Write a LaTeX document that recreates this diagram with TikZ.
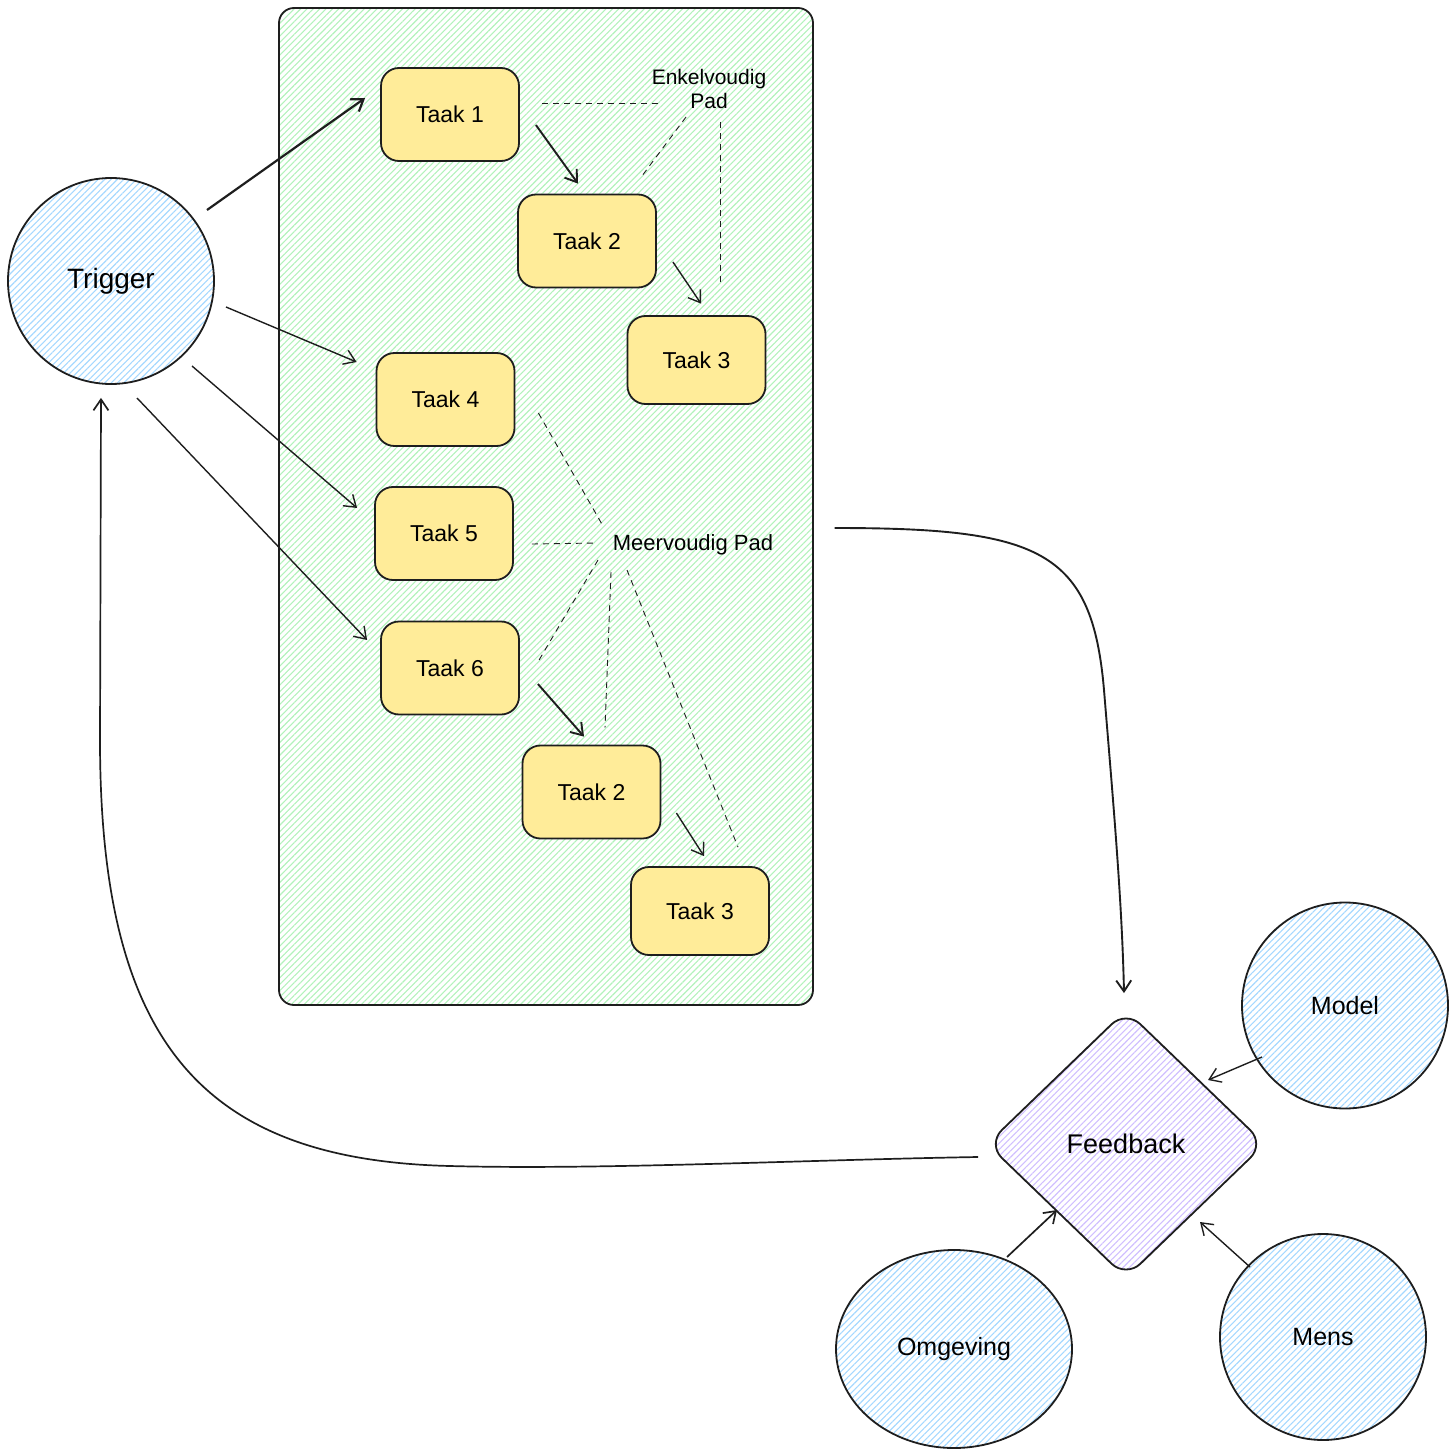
\documentclass[tikz,border=0pt]{standalone}
\usepackage{fontspec}
\setmainfont{Liberation Sans}
\usetikzlibrary{shapes.geometric,patterns.meta,arrows.meta,calc}
\definecolor{ink}{HTML}{1E1E1E}
\definecolor{taakyellow}{HTML}{FFEC99}
\definecolor{hatchgreen}{HTML}{B2F2BB}
\definecolor{hatchblue}{HTML}{A5D8FF}
\definecolor{hatchpurple}{HTML}{D0BFFF}
\begin{document}
\begin{tikzpicture}[x=1pt,y=-1pt,
  container/.style={draw=ink, line width=1.8pt, rounded corners=15pt,
    pattern={Lines[angle=45,distance=4.5pt,line width=1.1pt]}, pattern color=hatchgreen,
    minimum width=534pt, minimum height=997pt, inner sep=0pt},
  taak/.style={draw=ink, line width=1.8pt, rounded corners=18pt, fill=taakyellow,
    minimum width=138pt, minimum height=93pt, inner sep=0pt,
    font=\fontsize{23}{27}\selectfont},
  bluecirc/.style={draw=ink, line width=1.8pt, circle, minimum size=206pt, inner sep=0pt,
    pattern={Lines[angle=45,distance=4.5pt,line width=1.1pt]}, pattern color=hatchblue,
    font=\fontsize{25}{30}\selectfont},
  blueell/.style={draw=ink, line width=1.8pt, ellipse, minimum width=236pt, minimum height=198pt, inner sep=0pt,
    pattern={Lines[angle=45,distance=4.5pt,line width=1.1pt]}, pattern color=hatchblue,
    font=\fontsize{25}{30}\selectfont},
  fbshape/.style={draw=ink, line width=1.8pt, diamond, minimum width=278pt, minimum height=268pt,
    inner sep=0pt, rounded corners=20pt,
    pattern={Lines[angle=45,distance=4.5pt,line width=1.1pt]}, pattern color=hatchpurple,
    font=\fontsize{27}{32}\selectfont},
  lbl/.style={font=\fontsize{21}{24}\selectfont, align=center, inner sep=0pt},
  arr/.style={draw=ink, line width=1.4pt, -{Straight Barb[length=11pt,width=15pt]}},
  arrthick/.style={arr, line width=2.2pt},
  dsh/.style={draw=ink, line width=0.9pt, dash pattern=on 6pt off 5pt}
]
\useasboundingbox (0,0) rectangle (1456,1455);

% container
\node[container] (cont) at (546,506.5) {};

% task boxes
\node[taak] (t1)  at (450,114.5) {Taak 1};
\node[taak] (t2)  at (587,241)   {Taak 2};
\node[taak, minimum height=88pt] (t3)  at (696.5,360) {Taak 3};
\node[taak] (t4)  at (445.5,399.5) {Taak 4};
\node[taak] (t5)  at (444,533.5) {Taak 5};
\node[taak] (t6)  at (450,668)   {Taak 6};
\node[taak] (t2b) at (591.5,792) {Taak 2};
\node[taak, minimum height=88pt] (t3b) at (700,911) {Taak 3};

% labels
\node[lbl] (enk) at (709,89) {Enkelvoudig\\Pad};
\node[lbl, font=\fontsize{22}{26}\selectfont] (mee) at (693,545) {Meervoudig Pad};

% circles and diamond
\node[bluecirc, font=\fontsize{28}{32}\selectfont] (trig) at (111,281) {Trigger};
\node[bluecirc] (model) at (1345,1005.5) {Model};
\node[blueell] (omg) at (954,1349) {Omgeving};
\node[bluecirc] (mens) at (1323,1337) {Mens};
\node[fbshape] (fb) at (1126,1144) {Feedback};

% arrows from trigger
\draw[arrthick] ([shift={(96,-71)}]trig.center) -- ([shift={(-15,-16.5)}]t1.west);
\draw[arr] ([shift={(115,26)}]trig.center) -- ([shift={(-19,-37.5)}]t4.west);
\draw[arr] ([shift={(81,85)}]trig.center) -- ([shift={(-17,-25.5)}]t5.west);
\draw[arr] ([shift={(26,117)}]trig.center) -- ([shift={(-13,-28)}]t6.west);

% chains
\draw[arr, line width=1.9pt] ([shift={(16,10.5)}]t1.east) -- ([shift={(-9,-10)}]t2.north);
\draw[arr] ([shift={(16,21)}]t2.east) -- ([shift={(4.5,-11.5)}]t3.north);
\draw[arr, line width=1.9pt] ([shift={(18,16)}]t6.east) -- ([shift={(-7.5,-8)}]t2b.north);
\draw[arr] ([shift={(15,21)}]t2b.east) -- ([shift={(4,-10)}]t3b.north);

% dashed label lines
\draw[dsh] ([shift={(22,-11.5)}]t1.east) -- ([shift={(-49,14)}]enk.center);
\draw[dsh] ([shift={(-23,28)}]enk.center) -- ([shift={(56,-19)}]t2.north);
\draw[dsh] ([shift={(11,33)}]enk.center) -- ([shift={(23.5,-29.5)}]t3.north);
\draw[dsh] ([shift={(23,13.5)}]t4.east) -- ([shift={(-90,-19)}]mee.center);
\draw[dsh] ([shift={(18,10.5)}]t5.east) -- ([shift={(-96,-2)}]mee.center);
\draw[dsh] ([shift={(-95,15)}]mee.center) -- ([shift={(18,-6)}]t6.east);
\draw[dsh] ([shift={(-82,27)}]mee.center) -- ([shift={(13.5,-17)}]t2b.north);
\draw[dsh] ([shift={(-66,25)}]mee.center) -- ([shift={(38,-19)}]t3b.north);

% container to feedback
\draw[arr, line width=1.9pt] ([shift={(21,21.5)}]cont.east)
  .. controls (1040,528) and (1092,550) .. (1104,690)
  .. controls (1113,800) and (1122,900) .. ([shift={(-2,-16)}]fb.north);

% inputs to feedback
\draw[arr] ([shift={(-83,51.5)}]model.center) -- ([shift={(82,-64)}]fb.center);
\draw[arr, line width=1.7pt] ([shift={(53,-92)}]omg.center) -- ([shift={(-69,66)}]fb.center);
\draw[arr] ([shift={(-73,-70)}]mens.center) -- ([shift={(74,78)}]fb.center);

% feedback back to trigger
\draw[arr, line width=1.7pt] ([shift={(-8,13)}]fb.west)
  .. controls (800,1160) and (600,1170) .. (450,1166)
  .. controls (200,1160) and (100,1040) .. (100,740)
  -- ([shift={(-10,13)}]trig.south);
\end{tikzpicture}
\end{document}
